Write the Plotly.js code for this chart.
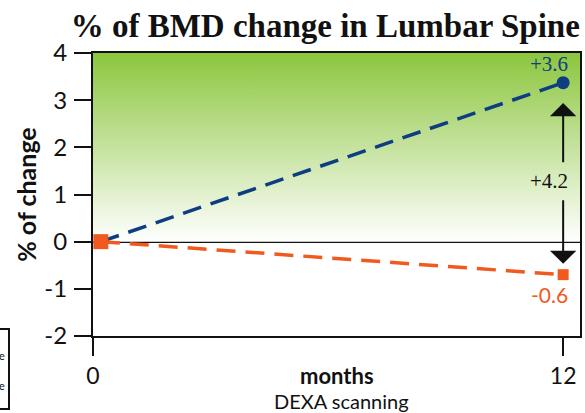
<!DOCTYPE html>
<html>
<head>
<meta charset="utf-8">
<script src="https://cdn.plot.ly/plotly-3.0.1.min.js"></script>
<style>html,body{margin:0;padding:0;background:#fff;}#chart{width:585px;height:413px;}</style>
</head>
<body>
<div id="chart"></div>
<script>
// Data
var months = [0.2, 12];               // plotted month positions (start, 12 months)
var treatedChange = [0, 3.37];        // blue series (% change)
var controlChange = [0, -0.70];       // orange series (% change)
var treatedLabel = "+3.6";
var controlLabel = "-0.6";
var diffLabel = "+4.2";
var xTickVals = [0, 12];
var xTickText = ["0", "12"];
var yTickVals = [-2, -1, 0, 1, 2, 3, 4];
var yTickText = ["-2", "-1", "0", "1", "2", "3", "4"];

var xRange = [0, 12.43];
var yRange = [-2, 4];

var sans = "Lato, 'Open Sans', sans-serif";
var serif = "'Liberation Serif', 'DejaVu Serif', serif";

var traces = [
  {
    x: [xRange[0], xRange[1], xRange[1], xRange[0]],
    y: [0, 0, yRange[1], yRange[1]],
    mode: "none", fill: "toself",
    fillgradient: {type: "vertical", colorscale: [[0, "#ffffff"], [1, "#8cc63e"]]},
    hoverinfo: "skip", showlegend: false
  },
  {
    x: months, y: treatedChange, mode: "lines+markers",
    line: {color: "#0e3d82", width: 3.5, dash: "19px,10px"},
    marker: {color: "#0e3d82", size: [0, 13], symbol: "circle", opacity: 1, line: {width: 0}},
    showlegend: false
  },
  {
    x: months, y: controlChange, mode: "lines+markers",
    line: {color: "#f05a1e", width: 3.5, dash: "19px,10px"},
    marker: {color: "#f05a1e", size: [15, 11], symbol: "square", opacity: 1, line: {width: 0}},
    showlegend: false
  }
];

var layout = {
  width: 585, height: 413,
  margin: {l: 93, r: 5, t: 53, b: 77},
  paper_bgcolor: "#ffffff", plot_bgcolor: "#ffffff",
  showlegend: false,
  title: {
    text: "<b>% of BMD change in Lumbar Spine</b>",
    font: {family: serif, size: 33, color: "#111"},
    x: 0.556, xanchor: "center", y: 0.938, yref: "container", yanchor: "middle"
  },
  xaxis: {
    range: xRange, tickvals: xTickVals, ticktext: xTickText,
    showgrid: false, zeroline: false,
    showline: true, linecolor: "#111", linewidth: 2, mirror: true,
    ticks: "outside", ticklen: 18, tickwidth: 2, tickcolor: "#111",
    tickfont: {family: sans, size: 23, color: "#111"}
  },
  yaxis: {
    range: yRange, tickvals: yTickVals, ticktext: yTickText,
    showgrid: false, zeroline: true, zerolinecolor: "#111", zerolinewidth: 2,
    showline: true, linecolor: "#111", linewidth: 2, mirror: true,
    ticks: "outside", ticklen: 17, tickwidth: 2, tickcolor: "#111",
    tickfont: {family: sans, size: 24, color: "#111"},
    ticklabelstandoff: 2,
    title: {text: "<b>% of change</b>", font: {family: sans, size: 25, color: "#111"}, standoff: 1}
  },
  annotations: [
    {x: 12, y: treatedChange[1], xref: "x", yref: "y", text: treatedLabel, showarrow: false,
     xanchor: "right", yanchor: "bottom", xshift: 7, yshift: 5,
     font: {family: serif, size: 21, color: "#0e3d82"}},
    {x: 12, y: controlChange[1], xref: "x", yref: "y", text: controlLabel, showarrow: false,
     xanchor: "right", yanchor: "top", xshift: 7, yshift: -5,
     font: {family: sans, size: 21, color: "#f05a1e"}},
    {x: 12, y: (treatedChange[1] + controlChange[1]) / 2, xref: "x", yref: "y", text: diffLabel, showarrow: false,
     xanchor: "right", yanchor: "middle", xshift: 7, yshift: -2,
     font: {family: serif, size: 21, color: "#111"}},
    {x: 12, y: 2.94, xref: "x", yref: "y", ax: 12, ay: 1.65, axref: "x", ayref: "y",
     text: "", showarrow: true, arrowhead: 1, arrowsize: 2.2, arrowwidth: 2, arrowcolor: "#111"},
    {x: 12, y: -0.47, xref: "x", yref: "y", ax: 12, ay: 0.91, axref: "x", ayref: "y",
     text: "", showarrow: true, arrowhead: 1, arrowsize: 2.2, arrowwidth: 2, arrowcolor: "#111"},
    {x: 0.501, y: -0.138, xref: "paper", yref: "paper", text: "<b>months</b>", showarrow: false,
     xanchor: "center", yanchor: "middle", font: {family: sans, size: 22, color: "#111"}},
    {x: 0.511, y: -0.23, xref: "paper", yref: "paper", text: "DEXA scanning", showarrow: false,
     xanchor: "center", yanchor: "middle", font: {family: sans, size: 20, color: "#111"}},
    {x: -0.176, y: -0.07, xref: "paper", yref: "paper", text: "e", showarrow: false,
     xanchor: "right", yanchor: "middle", font: {family: sans, size: 11, color: "#111"}},
    {x: -0.176, y: -0.175, xref: "paper", yref: "paper", text: "e", showarrow: false,
     xanchor: "right", yanchor: "middle", font: {family: sans, size: 11, color: "#111"}}
  ],
  shapes: [
    {type: "rect", xref: "paper", yref: "paper", x0: -0.3, x1: -0.1725, y0: 0.0247, y1: -0.258,
     line: {color: "#111", width: 2}, fillcolor: "rgba(0,0,0,0)"}
  ]
};

Plotly.newPlot("chart", traces, layout, {displayModeBar: false, staticPlot: true});
</script>
</body>
</html>
